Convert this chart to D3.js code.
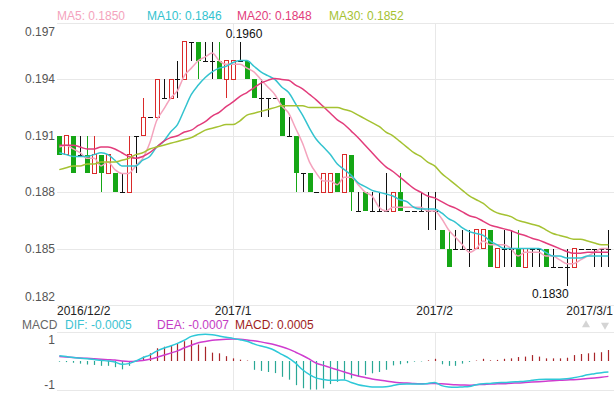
<!DOCTYPE html>
<meta charset="utf-8">
<script src="https://d3js.org/d3.v7.min.js"></script>
<style>
  body { margin: 0; background: #fff; }
  svg text { font-family: "Liberation Sans", Arial, sans-serif; font-size: 12px; }
</style>
<div id="chart"></div>
<script>
  // daily candles, 2016/12/2 .. 2017/3/1
  const opens  = [.191,.190,.191,.190,.190,.189,.190,.189,.189,.188, .188,.191,.191,.192,.192,.193,.193,.194,.194,.196,
                  .196,.195,.195,.195,.194,.194,.195,.195,.194,.193, .193,.193,.193,.191,.191,.189,.189,.188,.188,.188,
                  .189,.188,.190,.187,.188,.187,.187,.187,.187,.188, .187,.187,.187,.187,.187,.186,.185,.185,.185,.185,
                  .185,.185,.186,.184,.185,.185,.185,.184,.185,.185, .185,.184,.184,.184,.184,.185,.185,.185,.185,.185];
  const highs  = [.191,.191,.191,.191,.191,.191,.190,.190,.189,.189, .191,.191,.193,.192,.194,.194,.194,.195,.196,.196,
                  .196,.196,.196,.196,.195,.195,.196,.195,.194,.194, .193,.193,.193,.192,.191,.189,.189,.188,.189,.189,
                  .189,.190,.190,.188,.188,.188,.188,.189,.188,.189, .187,.187,.188,.188,.188,.186,.186,.186,.186,.186,
                  .186,.186,.186,.185,.186,.186,.186,.185,.185,.185, .185,.185,.184,.185,.185,.185,.185,.185,.185,.186];
  const lows   = [.190,.190,.189,.190,.189,.189,.188,.189,.188,.188, .188,.189,.191,.192,.192,.193,.193,.193,.194,.195,
                  .194,.195,.194,.194,.193,.194,.195,.194,.193,.192, .192,.193,.191,.191,.188,.188,.188,.188,.188,.188,
                  .188,.188,.187,.187,.187,.187,.187,.187,.187,.187, .187,.187,.187,.186,.186,.185,.184,.185,.185,.184,
                  .185,.185,.184,.184,.184,.184,.184,.184,.184,.184, .184,.184,.184,.183,.184,.185,.185,.184,.184,.184];
  const closes = [.190,.191,.189,.190,.189,.190,.189,.190,.188,.188, .190,.191,.192,.192,.194,.193,.194,.194,.196,.196,
                  .195,.195,.195,.194,.195,.195,.195,.194,.193,.193, .193,.193,.191,.191,.189,.189,.188,.188,.189,.189,
                  .188,.190,.188,.187,.187,.187,.187,.187,.188,.187, .187,.187,.187,.187,.187,.185,.184,.185,.185,.185,
                  .186,.186,.184,.185,.185,.185,.184,.185,.185,.185, .184,.184,.184,.184,.185,.185,.185,.185,.185,.185];

  const ma5  = [.1904,.1905,.1903,.1901,.1898,.1898,.1894,.1896,.1892,.1890, .1890,.1894,.1898,.1906,.1918,.1924,.1930,.1934,.1942,.1946,
                .1950,.1952,.1954,.1950,.1948,.1948,.1948,.1946,.1944,.1940, .1936,.1932,.1926,.1922,.1914,.1906,.1896,.1890,.1886,.1886,
                .1884,.1888,.1888,.1884,.1880,.1878,.1872,.1870,.1872,.1872, .1872,.1872,.1872,.1870,.1870,.1866,.1860,.1856,.1852,.1848,
                .1850,.1854,.1852,.1852,.1852,.1850,.1846,.1848,.1848,.1848, .1846,.1846,.1844,.1842,.1842,.1844,.1846,.1848,.1850,.1850];
  const ma10 = [.1901,.1900,.1899,.1899,.1899,.1900,.1901,.1900,.1897,.1894, .1894,.1894,.1897,.1899,.1904,.1907,.1912,.1916,.1924,.1932,
                .1937,.1941,.1944,.1946,.1947,.1949,.1950,.1950,.1947,.1944, .1942,.1940,.1936,.1933,.1927,.1921,.1914,.1908,.1904,.1900,
                .1895,.1892,.1889,.1885,.1883,.1881,.1880,.1879,.1878,.1876, .1875,.1872,.1871,.1871,.1871,.1869,.1866,.1864,.1861,.1859,
                .1858,.1857,.1854,.1852,.1850,.1850,.1850,.1850,.1850,.1850, .1848,.1846,.1846,.1845,.1845,.1845,.1846,.1846,.1846,.1846];
  const ma20 = [.1905,.1905,.1905,.1904,.1903,.1903,.1904,.1904,.1903,.1901, .1899,.1898,.1899,.1901,.1904,.1907,.1909,.1910,.1912,.1913,
                .19155,.19175,.19205,.19225,.19255,.1928,.1931,.1933,.19355,.1938, .19395,.19405,.1940,.19395,.1937,.1935,.1932,.1929,.19255,.1922,
                .19185,.1916,.19125,.1909,.1905,.1901,.1897,.18935,.1891,.1888, .1885,.1882,.1880,.1878,.1877,.1875,.1873,.18715,.18695,.18675,
                .18665,.18645,.18625,.18615,.18605,.18595,.1858,.1857,.18555,.18545, .1853,.18515,.1850,.18485,.18475,.18475,.1848,.1848,.1848,.1848];
  const ma30 = [.1892,.1893,.1894,.1894,.1895,.1895,.1896,.1896,.1896,.1897, .1898,.1900,.1901,.1903,.1904,.1905,.1906,.1907,.1908,.1909,
                .1911,.1913,.1914,.1915,.1916,.1916,.1918,.1921,.1922,.1923, .1924,.1925,.1926,.1926,.1926,.1926,.1925,.1925,.1925,.1925,
                .1925,.1924,.1923,.1921,.1919,.1917,.1915,.1912,.1910,.1907, .1904,.1901,.1899,.1896,.1894,.1890,.1887,.1884,.1881,.1878,
                .1876,.1874,.1871,.1869,.1868,.1867,.1865,.1864,.1863,.1862, .1860,.1858,.1857,.1856,.1855,.1855,.1854,.1853,.1852,.1852];

  const dif  = [.00024,.00020,.00016,.00013,.00010,.00007,.00003,0,-.00005,-.00015, -.00012,0,.00015,.00027,.00045,.00058,.00068,.00080,.00095,.00112,
                .00120,.00122,.00120,.00114,.00108,.00103,.00097,.00090,.00078,.00068, .00060,.00048,.00030,.00013,-.00010,-.00040,-.00062,-.00078,-.00084,-.00088,
                -.00088,-.00086,-.00098,-.00108,-.00114,-.00118,-.00118,-.00117,-.00112,-.00106, -.00105,-.00105,-.00105,-.00102,-.00098,-.00112,-.00118,-.00120,-.00118,-.00116,
                -.00108,-.00103,-.00102,-.00099,-.00098,-.00096,-.00094,-.00092,-.00088,-.00084, -.00083,-.00083,-.00083,-.00081,-.00076,-.00070,-.00063,-.00058,-.00053,-.00050];
  const dea  = [.00020,.00018,.00016,.00014,.00012,.00010,.00008,.00006,.00004,0, -.00002,-.00001,.00002,.00008,.00016,.00026,.00036,.00046,.00060,.00072,
                .00083,.00089,.00094,.00097,.00099,.00100,.00099,.00096,.00092,.00087, .00081,.00074,.00065,.00054,.00040,.00025,.00008,-.00010,-.00020,-.00030,
                -.00040,-.00050,-.00060,-.00068,-.00075,-.00082,-.00087,-.00091,-.00096,-.00099, -.00100,-.00102,-.00103,-.00103,-.00102,-.00104,-.00106,-.00108,-.00109,-.00110,
                -.00108,-.00107,-.00105,-.00104,-.00103,-.00101,-.00100,-.00098,-.00096,-.00094, -.00092,-.00090,-.00088,-.00086,-.00085,-.00083,-.00080,-.00077,-.00074,-.00070];
  const macd = [-.00003,-.00005,-.00008,-.00012,-.00016,-.00018,-.00022,-.00022,-.00028,-.00038, -.00022,.00004,.00020,.00035,.00058,.00065,.00072,.00078,.00090,.00095,
                .00075,.00065,.00038,.00035,.00022,.00012,.00006,.00002,-.00040,-.00045, -.00050,-.00055,-.00072,-.00085,-.00110,-.00124,-.00130,-.00130,-.00125,-.00105,
                -.00095,-.00085,-.00079,-.00072,-.00064,-.00056,-.00050,-.00040,-.00020,-.00015, -.00010,-.00003,-.00002,.00003,.00010,-.00015,-.00022,-.00022,-.00012,-.00004,
                .00002,.00010,.00003,.00005,.00010,.00012,.00018,.00020,.00027,.00020, .00012,.00012,.00012,.00015,.00027,.00032,.00035,.00038,.00040,.00050];

  const tickIndex  = [0, 25, 54, 79];
  const tickLabels = ["2016/12/2", "2017/1", "2017/2", "2017/3/1"];
  const priceTicks = [0.197, 0.194, 0.191, 0.188, 0.185, 0.182];
  const macdTicks  = [0.001, -0.001];

  const maNames  = ["MA5", "MA10", "MA20", "MA30"];
  const maSeries = [ma5, ma10, ma20, ma30];
  const maColors = ["#f4a3bd", "#33c3cf", "#e23c7b", "#a5c232"];
  const maLegendX = [57, 147, 237, 329];

  const W = 614, H = 393, left = 57, right = 614;
  const last = closes.length - 1;

  const svg = d3.select("#chart").append("svg")
    .attr("width", W).attr("height", H);

  const x  = d3.scaleLinear().domain([0, last]).range([59.3, 608.4]);
  const y  = d3.scaleLinear().domain([0.182, 0.197]).range([305, 23]);
  const yM = d3.scaleLinear().domain([-0.00132, 0.00132]).range([390, 332]);
  const px = i => Math.round(x(i)) + 0.5;

  // grid lines
  const grid = svg.append("g").attr("stroke", "#e8e8e8").attr("shape-rendering", "crispEdges");
  grid.selectAll(".hg").data(priceTicks).join("line")
    .attr("x1", left).attr("x2", right)
    .attr("y1", d => Math.round(y(d))).attr("y2", d => Math.round(y(d)));
  grid.selectAll(".mg").data(yM.domain()).join("line")
    .attr("x1", left).attr("x2", right)
    .attr("y1", d => Math.round(yM(d))).attr("y2", d => Math.round(yM(d)));
  const inner = tickIndex.slice(1, -1);
  grid.selectAll(".vg").data(inner).join("line")
    .attr("x1", d => Math.round(x(d))).attr("x2", d => Math.round(x(d)))
    .attr("y1", y(0.197)).attr("y2", y(0.182));
  grid.selectAll(".vm").data(inner).join("line")
    .attr("x1", d => Math.round(x(d))).attr("x2", d => Math.round(x(d)))
    .attr("y1", yM.range()[1]).attr("y2", yM.range()[0]);

  // y labels (top one sits under its line, bottom one above it)
  svg.append("g").selectAll("text").data(priceTicks).join("text")
    .attr("x", 55).attr("text-anchor", "end").attr("fill", "#555")
    .attr("y", (d, i) => y(d) + 4 + (i === 0 ? 9 : i === priceTicks.length - 1 ? -8 : 0))
    .text(d => d.toFixed(3));

  // x labels
  svg.append("g").selectAll("text").data(tickIndex).join("text")
    .attr("y", 315).attr("fill", "#222")
    .attr("x", (d, i) => i === 0 ? left : i === tickIndex.length - 1 ? 613 : x(d))
    .attr("text-anchor", (d, i) => i === 0 ? "start" : i === tickIndex.length - 1 ? "end" : "middle")
    .text((d, i) => tickLabels[i]);

  // candles
  const up = "#d92a2a", down = "#15a615", flat = "#111";
  const bw = 5;
  const candles = d3.range(closes.length).map(i => ({ i, o: opens[i], h: highs[i], l: lows[i], c: closes[i] }));
  const cg = svg.append("g").attr("shape-rendering", "crispEdges");
  candles.forEach(d => {
    const col = d.c > d.o ? up : d.c < d.o ? down : flat;
    const cx = px(d.i);
    const top = y(Math.max(d.o, d.c)), bot = y(Math.min(d.o, d.c));
    if (d.h > Math.max(d.o, d.c))
      cg.append("line").attr("x1", cx).attr("x2", cx).attr("y1", y(d.h)).attr("y2", top).attr("stroke", col);
    if (d.l < Math.min(d.o, d.c))
      cg.append("line").attr("x1", cx).attr("x2", cx).attr("y1", bot).attr("y2", y(d.l)).attr("stroke", col);
    if (d.c === d.o) {
      cg.append("line").attr("x1", cx - 2.5).attr("x2", cx + 2.5)
        .attr("y1", Math.round(top) + 0.5).attr("y2", Math.round(top) + 0.5).attr("stroke", col);
    } else if (d.c > d.o) {
      cg.append("rect").attr("x", cx - 2).attr("y", top).attr("width", bw - 1).attr("height", bot - top)
        .attr("fill", "#fff").attr("stroke", col);
    } else {
      cg.append("rect").attr("x", cx - 2.5).attr("y", top).attr("width", bw).attr("height", bot - top)
        .attr("fill", col);
    }
  });

  // moving averages
  const line = d3.line().x((d, i) => x(i)).y(d => y(d)).curve(d3.curveMonotoneX);
  svg.append("g").selectAll("path").data(maSeries).join("path")
    .attr("d", line).attr("fill", "none")
    .attr("stroke", (d, i) => maColors[i]).attr("stroke-width", 1.5);

  // legend
  svg.append("g").selectAll("text").data(maSeries).join("text")
    .attr("x", (d, i) => maLegendX[i]).attr("y", 20)
    .attr("fill", (d, i) => maColors[i])
    .text((d, i) => `${maNames[i]}: ${d[last].toFixed(4)}`);

  // highest / lowest marks
  const hiVal = d3.max(highs), loVal = d3.min(lows);
  const hiIdx = highs.lastIndexOf(hiVal), loIdx = lows.indexOf(loVal);
  svg.append("text").attr("x", x(hiIdx) + 4).attr("y", y(hiVal) - 3.5)
    .attr("text-anchor", "middle").attr("fill", "#111").text(hiVal.toFixed(4));
  svg.append("text").attr("x", x(loIdx) + 2).attr("y", y(loVal) + 11.5)
    .attr("text-anchor", "end").attr("fill", "#111").text(loVal.toFixed(4));

  // MACD panel
  const mLegend = [
    { t: "MACD", x: 22, c: "#666" },
    { t: `DIF: ${dif[last].toFixed(4)}`, x: 65, c: "#3cc3d2" },
    { t: `DEA: ${dea[last].toFixed(4)}`, x: 157, c: "#c43cc4" },
    { t: `MACD: ${macd[last].toFixed(4)}`, x: 235, c: "#9e1c1c" }
  ];
  svg.append("g").selectAll("text").data(mLegend).join("text")
    .attr("x", d => d.x).attr("y", 329).attr("fill", d => d.c).text(d => d.t);

  svg.append("g").selectAll("text").data(macdTicks).join("text")
    .attr("x", 55).attr("text-anchor", "end").attr("fill", "#555")
    .attr("y", d => yM(d) + 5 + (d < 0 ? 1 : 0))
    .text(d => String(Math.round(d * 1000)));

  svg.append("g").selectAll("line").data(macd).join("line")
    .attr("x1", (d, i) => px(i)).attr("x2", (d, i) => px(i))
    .attr("y1", yM(0)).attr("y2", d => yM(d))
    .attr("stroke", d => d >= 0 ? "#a8262a" : "#2aa895").attr("stroke-width", 1.2);

  const mline = d3.line().x((d, i) => x(i)).y(d => yM(d)).curve(d3.curveMonotoneX);
  svg.append("path").datum(dea).attr("d", mline).attr("fill", "none")
    .attr("stroke", "#cf3ccf").attr("stroke-width", 1.5);
  svg.append("path").datum(dif).attr("d", mline).attr("fill", "none")
    .attr("stroke", "#2ec8d8").attr("stroke-width", 1.5);

  // scroll arrows
  svg.append("path").attr("d", d3.symbol(d3.symbolTriangle, 28)())
    .attr("transform", "translate(586,325)").attr("fill", "#d4d4d4");
  svg.append("path").attr("d", d3.symbol(d3.symbolTriangle, 28)())
    .attr("transform", "translate(605,325) rotate(180)").attr("fill", "#d4d4d4");
</script>
